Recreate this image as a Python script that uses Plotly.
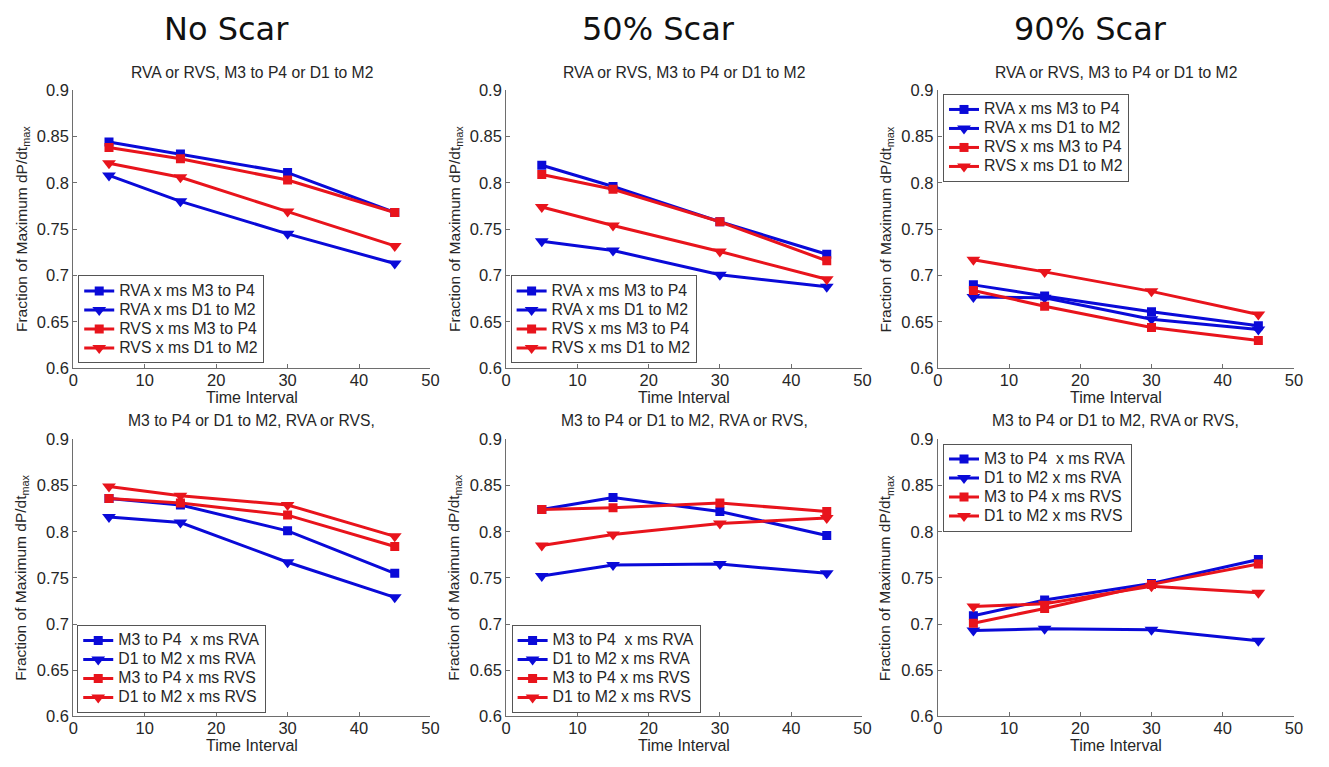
import plotly.graph_objects as go

W, H = 1329, 767

# Time intervals (x values)
time = [5, 15, 30, 45]

# ---- Top row: pacing site x timing ----
ns_rva_m3p4 = [0.844, 0.831, 0.811, 0.768]
ns_rva_d1m2 = [0.808, 0.780, 0.745, 0.713]
ns_rvs_m3p4 = [0.838, 0.826, 0.803, 0.768]
ns_rvs_d1m2 = [0.821, 0.806, 0.769, 0.732]

s50_rva_m3p4 = [0.819, 0.796, 0.758, 0.723]
s50_rva_d1m2 = [0.737, 0.727, 0.701, 0.688]
s50_rvs_m3p4 = [0.809, 0.793, 0.758, 0.716]
s50_rvs_d1m2 = [0.774, 0.754, 0.726, 0.696]

s90_rva_m3p4 = [0.690, 0.678, 0.661, 0.646]
s90_rva_d1m2 = [0.677, 0.676, 0.653, 0.642]
s90_rvs_m3p4 = [0.684, 0.667, 0.644, 0.630]
s90_rvs_d1m2 = [0.717, 0.704, 0.683, 0.658]

# ---- Bottom row: timing x pacing site ----
ns_m3p4_rva = [0.836, 0.829, 0.801, 0.755]
ns_d1m2_rva = [0.816, 0.810, 0.767, 0.729]
ns_m3p4_rvs = [0.836, 0.831, 0.818, 0.784]
ns_d1m2_rvs = [0.849, 0.839, 0.829, 0.795]

s50_m3p4_rva = [0.824, 0.837, 0.822, 0.796]
s50_d1m2_rva = [0.752, 0.764, 0.765, 0.755]
s50_m3p4_rvs = [0.824, 0.826, 0.831, 0.822]
s50_d1m2_rvs = [0.785, 0.797, 0.809, 0.815]

s90_m3p4_rva = [0.709, 0.726, 0.744, 0.770]
s90_d1m2_rva = [0.693, 0.695, 0.694, 0.682]
s90_m3p4_rvs = [0.701, 0.717, 0.743, 0.765]
s90_d1m2_rvs = [0.719, 0.722, 0.741, 0.734]

col_titles = ["No Scar", "50% Scar", "90% Scar"]
top_title = "RVA or RVS, M3 to P4 or D1 to M2"
bot_title = "M3 to P4 or D1 to M2, RVA or RVS,"
top_names = ["RVA x ms M3 to P4", "RVA x ms D1 to M2", "RVS x ms M3 to P4", "RVS x ms D1 to M2"]
bot_names = ["M3 to P4  x ms RVA", "D1 to M2 x ms RVA", "M3 to P4 x ms RVS", "D1 to M2 x ms RVS"]

x_ticks = [0, 10, 20, 30, 40, 50]
y_ticks = [0.6, 0.65, 0.7, 0.75, 0.8, 0.85, 0.9]
y_ticktext = ["0.6", "0.65", "0.7", "0.75", "0.8", "0.85", "0.9"]

BLUE = "#0a0ad8"
RED = "#e8141c"
colors = [BLUE, BLUE, RED, RED]
symbols = ["square", "triangle-down", "square", "triangle-down"]
msizes = [9, 12, 9, 12]

panels = [
    # (series, names, col, row, legend box (left px, top/bottom px, anchor))
    ([ns_rva_m3p4, ns_rva_d1m2, ns_rvs_m3p4, ns_rvs_d1m2], top_names, 0, 0, (74, 363, "bottom")),
    ([s50_rva_m3p4, s50_rva_d1m2, s50_rvs_m3p4, s50_rvs_d1m2], top_names, 1, 0, (511, 363, "bottom")),
    ([s90_rva_m3p4, s90_rva_d1m2, s90_rvs_m3p4, s90_rvs_d1m2], top_names, 2, 0, (948, 87, "top")),
    ([ns_m3p4_rva, ns_d1m2_rva, ns_m3p4_rvs, ns_d1m2_rvs], bot_names, 0, 1, (73, 721, "bottom")),
    ([s50_m3p4_rva, s50_d1m2_rva, s50_m3p4_rvs, s50_d1m2_rvs], bot_names, 1, 1, (512, 721, "bottom")),
    ([s90_m3p4_rva, s90_d1m2_rva, s90_m3p4_rvs, s90_d1m2_rvs], bot_names, 2, 1, (948, 445, "top")),
]

# plot-area pixel extents
col_x = [(69, 430), (506.5, 866.5), (942.7, 1302.7)]
row_y = [(83, 368), (440.7, 724.5)]

FONT = "Liberation Sans, Arial, Helvetica, sans-serif"
AXIS_COLOR = "#6e6e6e"
TEXT_COLOR = "#262626"
LEGEND_TEXT_PX = 15.8

fig = go.Figure()
layout = dict(
    width=W, height=H,
    margin=dict(l=0, r=0, t=0, b=0),
    paper_bgcolor="white", plot_bgcolor="white",
    font=dict(family=FONT, color=TEXT_COLOR),
    showlegend=True,
)
annotations = []

for i, (series, names, c, r, leg) in enumerate(panels):
    n = i + 1
    xa = "x" if n == 1 else f"x{n}"
    ya = "y" if n == 1 else f"y{n}"
    lg = "legend" if n == 1 else f"legend{n}"
    for s, name, col, sym, ms in zip(series, names, colors, symbols, msizes):
        fig.add_trace(go.Scatter(
            x=time, y=s,
            name=f'<span style="font-size:{LEGEND_TEXT_PX}px">{name}</span>',
            mode="lines+markers",
            line=dict(color=col, width=3),
            marker=dict(symbol=sym, size=ms, color=col, line=dict(width=0)),
            xaxis=xa, yaxis=ya, legend=lg,
        ))
    x0, x1 = col_x[c]
    y0, y1 = row_y[r]
    axis_common = dict(
        showgrid=False, zeroline=False, showline=True, linecolor=AXIS_COLOR,
        linewidth=1, ticks="inside", ticklen=4, tickcolor=AXIS_COLOR,
        tickfont=dict(size=16.5, family=FONT, color=TEXT_COLOR),
    )
    layout["xaxis" if n == 1 else f"xaxis{n}"] = dict(
        axis_common, domain=[x0 / W, x1 / W], range=[0, 50],
        tickvals=x_ticks, anchor=ya, ticklabelstandoff=-3,
    )
    layout["yaxis" if n == 1 else f"yaxis{n}"] = dict(
        axis_common, domain=[1 - y1 / H, 1 - y0 / H], range=[0.6, 0.9],
        tickvals=y_ticks, ticktext=y_ticktext, anchor=xa,
    )
    lx, ly, anchor = leg
    layout[lg] = dict(
        x=lx / W, y=1 - ly / H, xanchor="left", yanchor=anchor,
        xref="paper", yref="paper",
        bgcolor="white", bordercolor="#555555", borderwidth=1,
        font=dict(size=12, family=FONT, color=TEXT_COLOR),
        tracegroupgap=0, itemwidth=30,
    )
    # subplot title
    annotations.append(dict(
        text=top_title if r == 0 else bot_title,
        x=(x0 + x1) / 2 / W, y=1 - (65 if r == 0 else 421) / H,
        xref="paper", yref="paper", xanchor="center", yanchor="middle",
        showarrow=False, font=dict(size=15.7, family=FONT, color=TEXT_COLOR),
    ))
    # x-axis title
    annotations.append(dict(
        text="Time Interval",
        x=(x0 + x1) / 2 / W, y=1 - (y1 + 30) / H,
        xref="paper", yref="paper", xanchor="center", yanchor="middle",
        showarrow=False, font=dict(size=16, family=FONT, color=TEXT_COLOR),
    ))
    # y-axis title
    annotations.append(dict(
        text="Fraction of Maximum dP/dt<sub>max</sub>",
        x=(x0 - 52) / W, y=1 - (y0 + y1) / 2 / H,
        xref="paper", yref="paper", xanchor="center", yanchor="middle",
        textangle=-90, showarrow=False,
        font=dict(size=15.5, family=FONT, color=TEXT_COLOR),
    ))

# column headings
for title, cx in zip(col_titles, [224, 660, 1097]):
    annotations.append(dict(
        text=title, x=cx / W, y=1 - 20 / H, xref="paper", yref="paper",
        xanchor="center", yanchor="middle", showarrow=False,
        font=dict(size=32, family="DejaVu Sans, sans-serif", color="#111111"),
    ))

layout["annotations"] = annotations
fig.update_layout(**layout)
fig.write_html("out.html")
